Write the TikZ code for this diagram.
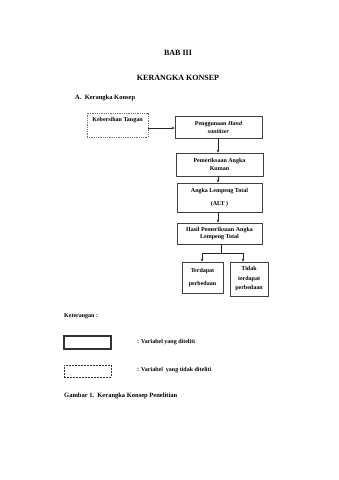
\documentclass[tikz,border=0pt]{standalone}
\usepackage{fontspec}
\setmainfont{Liberation Serif}
\usetikzlibrary{arrows.meta}
\tikzset{
  boxs/.style={draw=black!75, line width=0.6pt, inner sep=0pt, align=center,
    font=\fontsize{6}{8}\selectfont\bfseries},
  dbox/.style={draw=black!55, line width=0.5pt, dash pattern=on 1pt off 0.8pt, inner sep=0pt},
  lbl/.style={inner sep=0pt, font=\fontsize{6}{8}\selectfont\bfseries},
  arr/.style={draw=black!85, line width=0.6pt, -{Stealth[length=3pt,width=2.6pt]}},
  ln/.style={draw=black!85, line width=0.6pt},
  ttl/.style={inner sep=0pt, font=\fontsize{8}{9}\selectfont\bfseries}
}
\begin{document}
\begin{tikzpicture}[x=1pt,y=-1pt]
\useasboundingbox (0,0) rectangle (339,480);
\fill[white] (0,0) rectangle (339,480);
\node[ttl] (t1) at (178,53) {BAB III};
\node[ttl] (t2) at (178,78) {KERANGKA KONSEP};
\node[lbl, anchor=west, font=\fontsize{6.5}{8}\selectfont\bfseries] (t3) at (75,97.5) {A.\ \ Kerangka Konsep};

\node[dbox, minimum width=61pt, minimum height=24pt] (keb) at (117.5,125) {};
\node[lbl] (kebt) at (117.5,120) {Kebersihan Tangan};

\node[boxs, minimum width=87pt, minimum height=22pt] (peng) at (218.5,127)
  {Penggunaan \textit{Hand}\\ \textit{sanitizer}};
\node[boxs, minimum width=87pt, minimum height=23pt] (pem) at (219.5,164.5)
  {Pemeriksaan Angka\\ Kuman};
\node[boxs, minimum width=85pt, minimum height=29pt] (alt) at (219.5,197.5)
  {Angka Lempeng Total\\[5pt] (ALT )};
\node[boxs, minimum width=85pt, minimum height=21pt, font=\fontsize{6}{7.5}\selectfont\bfseries] (has) at (219.5,233.5)
  {Hasil Pemeriksaan Angka\\ Lempeng Total};
\node[boxs, minimum width=41pt, minimum height=31pt] (ter) at (202.5,277.5)
  {Terdapat\\[5pt] perbedaan};
\node[boxs, minimum width=38pt, minimum height=34pt, font=\fontsize{6}{9.5}\selectfont\bfseries] (tid) at (249,279)
  {Tidak\\ terdapat\\ perbedaan};

\draw[arr] ([yshift=-3pt]keb.east) -- (peng.west |- 0,128);
\draw[arr] ([xshift=-0.5pt]peng.south) -- ([xshift=-1.5pt]pem.north);
\draw[arr] ([xshift=-1.5pt]pem.south) -- ([xshift=-1.5pt]alt.north);
\draw[arr] ([xshift=-1.5pt]alt.south) -- ([xshift=-1.5pt]has.north);
\coordinate (br) at (221,253);
\coordinate (bl) at (202,253);
\coordinate (brr) at (243,253);
\draw[ln] ([xshift=1.5pt]has.south) -- (br);
\draw[ln] (bl) -- (brr);
\draw[arr] (bl) -- (bl |- ter.north);
\draw[arr] (brr) -- (brr |- tid.north);

\node[lbl, anchor=west] (ket) at (64,316) {Keterangan :};
\node[draw=black!80, line width=1.1pt, minimum width=47pt, minimum height=13pt, inner sep=0pt] (lg1) at (87.5,342.5) {};
\node[lbl, anchor=west] (lg1t) at (137,342.5) {: Variabel yang diteliti};
\node[draw=black!80, line width=0.9pt, dash pattern=on 1.8pt off 1.2pt, minimum width=47pt, minimum height=12pt, inner sep=0pt] (lg2) at (87.5,371) {};
\node[lbl, anchor=west] (lg2t) at (137,370) {: Variabel \ yang tidak diteliti};
\node[lbl, anchor=west, font=\fontsize{6.5}{8}\selectfont\bfseries] (cap) at (64,396) {Gambar 1.\ \ Kerangka Konsep Penelitian};
\end{tikzpicture}
\end{document}
